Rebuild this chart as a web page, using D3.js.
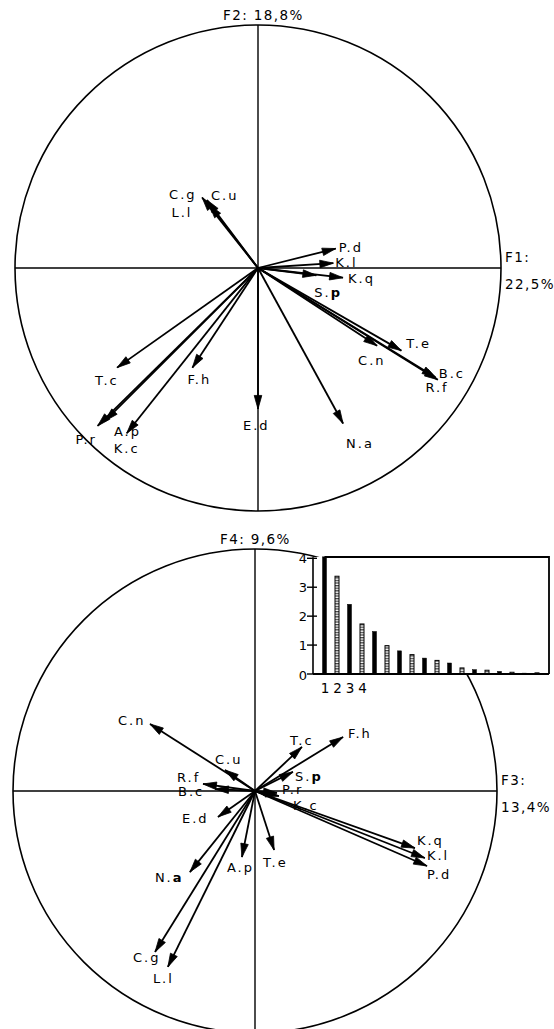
<!DOCTYPE html>
<html>
<head>
<meta charset="utf-8">
<script src="https://cdn.jsdelivr.net/npm/d3@7/dist/d3.min.js"></script>
<style>
  html, body { margin: 0; padding: 0; background: #fff; }
  svg { display: block; }
  text { font-family: "DejaVu Sans", sans-serif; fill: #000; }
</style>
</head>
<body>
<svg id="chart" width="554" height="1029"></svg>
<script>
// Variables (same order in both correlation circles)
const variables = ["C.g","C.u","L.l","P.d","K.l","K.q","S.p","T.e","C.n","B.c","R.f","N.a","E.d","F.h","T.c","P.r","A.p","K.c"];

// Correlations with factors F1 and F2
const f1 = [-0.23,-0.21,-0.20, 0.32, 0.31, 0.35, 0.24, 0.59, 0.49, 0.74, 0.73, 0.35, 0.00,-0.27,-0.58,-0.66,-0.63,-0.54];
const f2 = [ 0.29, 0.28, 0.26, 0.08, 0.02,-0.04,-0.03,-0.34,-0.32,-0.46,-0.45,-0.64,-0.58,-0.41,-0.41,-0.65,-0.63,-0.68];

// Correlations with factors F3 and F4
const f3 = [-0.413,-0.124,-0.360, 0.711, 0.702, 0.661, 0.157, 0.079,-0.434,-0.165,-0.215,-0.269,-0.153, 0.364, 0.194, 0.091,-0.054, 0.099];
const f4 = [-0.665, 0.087,-0.727,-0.310,-0.277,-0.236, 0.079,-0.244, 0.277, 0.008, 0.029,-0.335,-0.107, 0.223, 0.182,-0.008,-0.273,-0.021];

// Eigenvalues (scree plot)
const eigenRank = d3.range(1, 19);
const eigenValues = [4.05, 3.38, 2.41, 1.73, 1.47, 0.98, 0.80, 0.67, 0.55, 0.47, 0.38, 0.21, 0.15, 0.13, 0.09, 0.06, 0.03, 0.04];
const eigenTicks = [0, 1, 2, 3, 4];
const eigenRankLabels = ["1", "2", "3", "4"];

// Axis titles
const axisTitlesTop = { vertical: "F2: 18,8%", horizontal: ["F1:", "22,5%"] };
const axisTitlesBottom = { vertical: "F4: 9,6%", horizontal: ["F3:", "13,4%"] };

// Label placement relative to each arrow tip (px: left, baseline)
const labelOffsetTop = {
  "C.g": [-33, 1], "C.u": [4, 0], "L.l": [-38, 12], "P.d": [3, 3], "K.l": [2, 4], "K.q": [5, 5],
  "S.p": [-2, 22], "T.e": [5, -3], "C.n": [-19, 19], "B.c": [1, -2], "R.f": [-10, 15], "N.a": [3, 24],
  "E.d": [-15, 21], "F.h": [-5, 16], "T.c": [-22, 17], "P.r": [-22, 18], "A.p": [9, 15], "K.c": [-13, 20]
};
const labelOffsetBottom = {
  "C.g": [-22, 10], "C.u": [-10, -6], "L.l": [-15, 16], "P.d": [0, 13], "K.l": [2, 2], "K.q": [2, -3],
  "S.p": [2, 9], "T.e": [-11, 17], "C.n": [-32, 1], "B.c": [-37, 7], "R.f": [-26, -2], "N.a": [-35, 10],
  "E.d": [-36, 6], "F.h": [5, 1], "T.c": [-12, -2], "P.r": [5, 1], "A.p": [-15, 15], "K.c": [14, 14]
};
// labels whose final letter is printed heavier
const boldTailTop = new Set(["S.p"]);
const boldTailBottom = new Set(["S.p", "N.a"]);

const svg = d3.select("#chart");
svg.append("rect").attr("width", 554).attr("height", 1029).attr("fill", "#fff");

function arrowHead(x0, y0, x1, y1, len, half) {
  const a = Math.atan2(y1 - y0, x1 - x0);
  const hx = x1 - len * Math.cos(a), hy = y1 - len * Math.sin(a);
  const nx = -Math.sin(a) * half, ny = Math.cos(a) * half;
  return `M${x1},${y1}L${hx + nx},${hy + ny}L${hx - nx},${hy - ny}Z`;
}

function correlationCircle(g, cx, cy, r, xs, ys, offsets, boldTail, titles) {
  const x = d3.scaleLinear().domain([-1, 1]).range([cx - r, cx + r]);
  const y = d3.scaleLinear().domain([-1, 1]).range([cy + r, cy - r]);

  g.append("circle")
    .attr("cx", x(0)).attr("cy", y(0)).attr("r", x(1) - x(0))
    .attr("fill", "none").attr("stroke", "#000").attr("stroke-width", 1.6);

  g.append("line").attr("x1", x(-1)).attr("x2", x(1)).attr("y1", y(0)).attr("y2", y(0))
    .attr("stroke", "#000").attr("stroke-width", 1.4);
  g.append("line").attr("x1", x(0)).attr("x2", x(0)).attr("y1", y(1)).attr("y2", y(-1))
    .attr("stroke", "#000").attr("stroke-width", 1.4);

  const data = variables.map((v, i) => ({ name: v, a: xs[i], b: ys[i] }));

  const arrows = g.append("g");
  arrows.selectAll("line").data(data).join("line")
    .attr("x1", x(0)).attr("y1", y(0))
    .attr("x2", d => x(d.a)).attr("y2", d => y(d.b))
    .attr("stroke", "#000").attr("stroke-width", 1.8);
  arrows.selectAll("path").data(data).join("path")
    .attr("d", d => arrowHead(x(0), y(0), x(d.a), y(d.b), 13.5, 3.8))
    .attr("fill", "#000").attr("stroke", "#000").attr("stroke-width", 0.8);

  const labels = g.append("g").attr("font-size", 13).attr("letter-spacing", 2);
  labels.selectAll("text").data(data).join("text")
    .attr("x", d => x(d.a) + offsets[d.name][0])
    .attr("y", d => y(d.b) + offsets[d.name][1])
    .each(function (d) {
      const t = d3.select(this);
      if (boldTail.has(d.name)) {
        t.append("tspan").text(d.name.slice(0, -1));
        t.append("tspan").attr("font-weight", "bold").text(d.name.slice(-1));
      } else {
        t.text(d.name);
      }
    });

  const titleG = g.append("g").attr("font-size", 13.5).attr("letter-spacing", 1.4);
  titleG.append("text").attr("x", x(0) - 35).attr("y", y(1) - 5).text(titles.vertical);
  titleG.append("text").attr("x", x(1) + 4).attr("y", y(0) - 6).text(titles.horizontal[0]);
  titleG.append("text").attr("x", x(1) + 4).attr("y", y(0) + 21).text(titles.horizontal[1]);
}

correlationCircle(svg.append("g"), 258, 268, 243, f1, f2, labelOffsetTop, boldTailTop, axisTitlesTop);
correlationCircle(svg.append("g"), 255, 791, 242, f3, f4, labelOffsetBottom, boldTailBottom, axisTitlesBottom);

// Scree plot inset
const defs = svg.append("defs");
const pat = defs.append("pattern").attr("id", "ladder")
  .attr("patternUnits", "userSpaceOnUse").attr("width", 4).attr("height", 2.6);
pat.append("rect").attr("width", 4).attr("height", 2.6).attr("fill", "#fff");
pat.append("rect").attr("x", 0).attr("y", 0).attr("width", 4).attr("height", 1.3).attr("fill", "#444");

const inset = svg.append("g");
const bx = d3.scaleLinear().domain([1, 18]).range([324.5, 537]);
const by = d3.scaleLinear().domain([0, 4]).range([674, 558.3]);
const boxLeft = 313, boxRight = 549, boxTop = 557, boxBottom = by(0);

inset.append("rect").attr("x", boxLeft).attr("y", boxTop)
  .attr("width", boxRight - boxLeft).attr("height", boxBottom - boxTop)
  .attr("fill", "#fff");
inset.append("path")
  .attr("d", `M${bx(1)},${boxTop}L${boxRight},${boxTop}L${boxRight},${boxBottom}`)
  .attr("fill", "none").attr("stroke", "#000").attr("stroke-width", 1.8);

const bw = 4;
inset.selectAll(".bar").data(eigenValues).join("rect")
  .attr("class", "bar")
  .attr("x", (d, i) => bx(eigenRank[i]) - bw / 2)
  .attr("y", d => by(d))
  .attr("width", bw)
  .attr("height", d => by(0) - by(d))
  .attr("fill", (d, i) => i % 2 === 0 ? "#000" : "url(#ladder)")
  .attr("stroke", "#000")
  .attr("stroke-width", (d, i) => i % 2 === 0 ? 0.5 : 1);

// axes
inset.append("line").attr("x1", boxLeft).attr("x2", boxRight).attr("y1", boxBottom).attr("y2", boxBottom)
  .attr("stroke", "#000").attr("stroke-width", 1.8);
inset.append("line").attr("x1", boxLeft).attr("x2", boxLeft).attr("y1", by(4) - 1).attr("y2", boxBottom)
  .attr("stroke", "#000").attr("stroke-width", 1.6);
inset.selectAll(".tick").data(eigenTicks).join("line")
  .attr("class", "tick")
  .attr("x1", boxLeft - 6).attr("x2", boxLeft + 4)
  .attr("y1", d => by(d)).attr("y2", d => by(d))
  .attr("stroke", "#000").attr("stroke-width", 1.4);
inset.selectAll(".ticklabel").data(eigenTicks).join("text")
  .attr("class", "ticklabel")
  .attr("x", boxLeft - 6).attr("y", d => by(d) + 5 + (d === 0 ? 1 : 0))
  .attr("text-anchor", "end").attr("font-size", 13)
  .text(d => d);
inset.selectAll(".ranklabel").data(eigenRankLabels).join("text")
  .attr("class", "ranklabel")
  .attr("x", (d, i) => bx(eigenRank[i]) + 0.5).attr("y", 693)
  .attr("text-anchor", "middle").attr("font-size", 13.5)
  .text(d => d);
</script>
</body>
</html>
